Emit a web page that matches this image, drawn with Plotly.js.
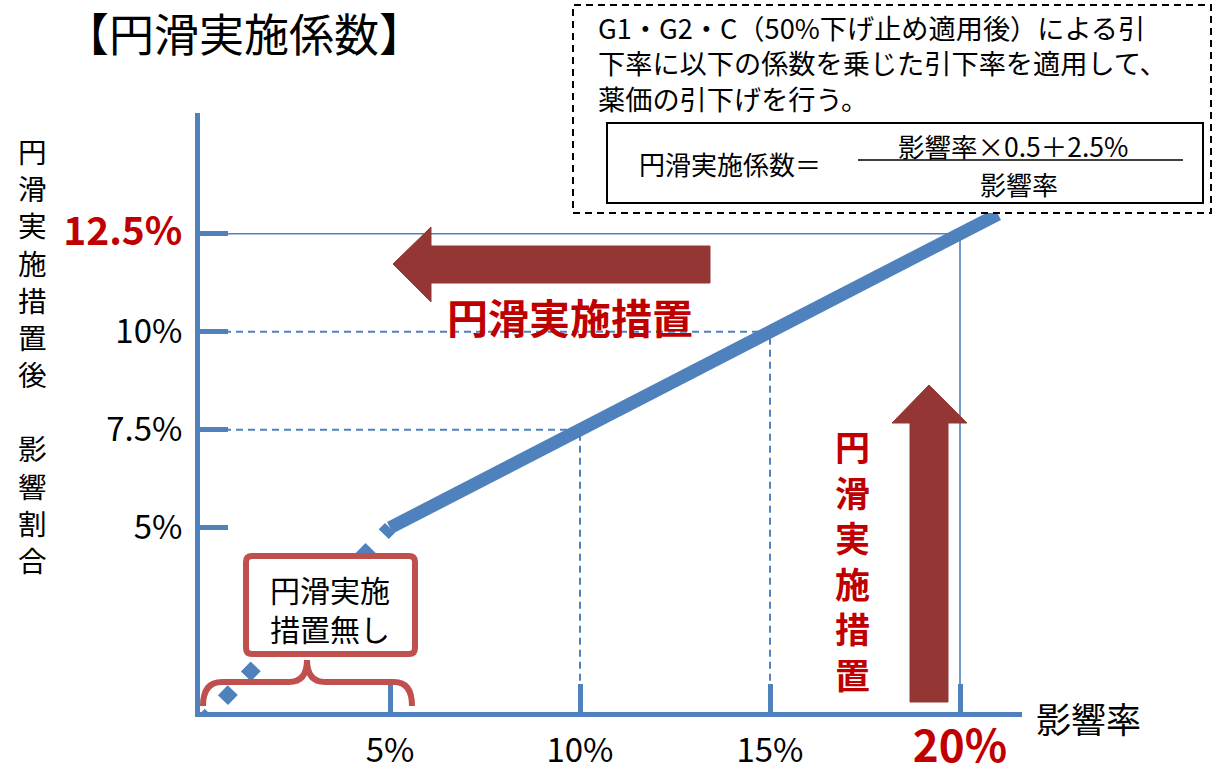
<!DOCTYPE html>
<html><head><meta charset="utf-8">
<script src="https://cdn.plot.ly/plotly-3.0.1.min.js"></script>
<style>html,body{margin:0;padding:0;background:#fff}#chart{width:1213px;height:771px}</style>
</head><body><div id="chart"></div>
<script>
// ---- data ----
const xNoMeasure = [0, 5];
const yNoMeasure = [0, 5];
const xMeasure = [5, 10, 15, 20, 21];
const yMeasure = [5, 7.5, 10, 12.5, 13];
const guideX = [10, 15, 20];
const guideY = [7.5, 10, 12.5];
const xTickVals = [5, 10, 15, 20];
const xTickText = ['5%', '10%', '15%', '20%'];
const yTickVals = [5, 7.5, 10, 12.5];
const yTickText = ['5%', '7.5%', '10%', '12.5%'];
const titleText = '【円滑実施係数】';
const yTitleChars = ['円', '滑', '実', '施', '措', '置', '後', '', '影', '響', '割', '合'];
const xTitleText = '影響率';
const measureChars = ['円', '滑', '実', '施', '措', '置'];
const noMeasureLines = ['円滑実施', '措置無し'];
const noteLines = ['G1・G2・C（50%下げ止め適用後）による引', '下率に以下の係数を乗じた引下率を適用して、', '薬価の引下げを行う。'];
const formulaLeft = '円滑実施係数＝';
const formulaNum = '影響率×0.5＋2.5%';
const formulaDen = '影響率';

// ---- layout geometry ----
const W = 1213, H = 771, ML = 200, MR = 191, MT = 113, MB = 59;
const PW = W - ML - MR, PH = H - MT - MB;
const px = v => (v - ML) / PW;
const py = v => (H - MB - v) / PH;
const P = (x, y) => px(x).toFixed(5) + ',' + py(y).toFixed(5);
const FONT = '"Noto Sans CJK JP", "Noto Sans", sans-serif';
const BLUE = '#4f81bd', DARKRED = '#943634', RED = '#c00000', BOXRED = '#c0504d';

const traces = [];
guideX.forEach((gx, i) => {
  const solid = i === guideX.length - 1;
  traces.push({
    x: [0, gx, gx], y: [guideY[i], guideY[i], 0], mode: 'lines', hoverinfo: 'skip', showlegend: false,
    line: {color: BLUE, width: solid ? 1.6 : 2, dash: solid ? 'solid' : '7px,5px'}
  });
});
traces.push({x: xNoMeasure, y: yNoMeasure, mode: 'lines', hoverinfo: 'skip', showlegend: false,
  line: {color: BLUE, width: 14, dash: '14px,19px'}});
traces.push({x: xMeasure, y: yMeasure, mode: 'lines', hoverinfo: 'skip', showlegend: false,
  line: {color: BLUE, width: 13}});

const yText = yTickText.map((t, i) => i === yTickText.length - 1
  ? '<span style="color:' + RED + ';font-size:39px"><b>' + t + '</b></span>' : t);
const xText = xTickText.map((t, i) => i === xTickText.length - 1
  ? '<span style="color:' + RED + ';font-size:44px"><b>' + t + '</b></span>' : t);

const shapes = [];
// arrows
shapes.push({type: 'path', xref: 'paper', yref: 'paper', fillcolor: DARKRED, line: {color: DARKRED, width: 1},
  path: 'M' + P(393, 264) + 'L' + P(431, 227) + 'L' + P(431, 246) + 'L' + P(710, 246) + 'L' + P(710, 283) + 'L' + P(431, 283) + 'L' + P(431, 302) + 'Z'});
shapes.push({type: 'path', xref: 'paper', yref: 'paper', fillcolor: DARKRED, line: {color: DARKRED, width: 1},
  path: 'M' + P(929, 385) + 'L' + P(967, 423) + 'L' + P(948, 423) + 'L' + P(948, 702) + 'L' + P(910, 702) + 'L' + P(910, 423) + 'L' + P(892, 423) + 'Z'});
// note box
shapes.push({type: 'rect', xref: 'paper', yref: 'paper', x0: px(573), x1: px(1211), y0: py(213), y1: py(5),
  fillcolor: '#ffffff', line: {color: '#000', width: 2, dash: '7px,5px'}});
shapes.push({type: 'rect', xref: 'paper', yref: 'paper', x0: px(607), x1: px(1203), y0: py(203), y1: py(123),
  fillcolor: 'rgba(0,0,0,0)', line: {color: '#000', width: 2}});
shapes.push({type: 'line', xref: 'paper', yref: 'paper', x0: px(858), x1: px(1183), y0: py(160), y1: py(160),
  line: {color: '#000', width: 1.5}});
// red callout
const r = 6, bx0 = 246, bx1 = 415, by0 = 556, by1 = 654;
shapes.push({type: 'path', xref: 'paper', yref: 'paper', fillcolor: '#ffffff', line: {color: BOXRED, width: 6},
  path: 'M' + P(bx0 + r, by0) + 'L' + P(bx1 - r, by0) + 'Q' + P(bx1, by0) + ' ' + P(bx1, by0 + r) +
    'L' + P(bx1, by1 - r) + 'Q' + P(bx1, by1) + ' ' + P(bx1 - r, by1) + 'L' + P(bx0 + r, by1) +
    'Q' + P(bx0, by1) + ' ' + P(bx0, by1 - r) + 'L' + P(bx0, by0 + r) + 'Q' + P(bx0, by0) + ' ' + P(bx0 + r, by0) + 'Z'});
shapes.push({type: 'path', xref: 'paper', yref: 'paper', line: {color: BOXRED, width: 6},
  path: 'M' + P(203, 706) + 'Q' + P(203, 682) + ' ' + P(222, 682) + 'L' + P(289, 682) + 'Q' + P(307, 682) + ' ' + P(307, 660) +
    'Q' + P(307, 682) + ' ' + P(325, 682) + 'L' + P(394, 682) + 'Q' + P(412, 682) + ' ' + P(412, 706)});

const ann = [];
const A = (text, x, y, size, opts) => ann.push(Object.assign({
  text: text, xref: 'paper', yref: 'paper', x: px(x), y: py(y), showarrow: false,
  xanchor: 'center', yanchor: 'middle', font: {family: FONT, size: size, color: '#000'}
}, opts || {}));
A(titleText, 244, 32, 45);
A(yTitleChars.map(c => c || ' ').join('<br>'), 32, 355, 28.6);
A(xTitleText, 1088, 717, 35);
A('<b>' + measureChars.join('') + '</b>', 570, 316, 41, {font: {family: FONT, size: 41, color: RED}});
A('<b>' + measureChars.join('<br>') + '</b>', 852, 559, 35, {font: {family: FONT, size: 35, color: RED}});
A(noMeasureLines.join('<br>'), 330, 608, 30);
A(noteLines.join('<br>'), 596, 63, 27.2, {xanchor: 'left', align: 'left'});
A(formulaLeft, 730, 163, 26);
A(formulaNum, 1013, 145, 26.5);
A(formulaDen, 1019, 183, 26);

const layout = {
  width: W, height: H, margin: {l: ML, r: MR, t: MT, b: MB},
  paper_bgcolor: '#fff', plot_bgcolor: 'rgba(0,0,0,0)', showlegend: false,
  xaxis: {range: [0, PW / 38], showgrid: false, zeroline: false, showline: true, linecolor: BLUE, linewidth: 5,
    ticks: 'inside', ticklen: 28, tickwidth: 5, tickcolor: BLUE, tickvals: xTickVals, ticktext: xText,
    tickfont: {family: FONT, size: 33, color: '#000'}, ticklabelstandoff: 5, fixedrange: true},
  yaxis: {range: [0.3, 0.3 + PH / 39.2], showgrid: false, zeroline: false, showline: true, linecolor: BLUE, linewidth: 5,
    ticks: 'inside', ticklen: 28, tickwidth: 5, tickcolor: BLUE, tickvals: yTickVals, ticktext: yText,
    tickfont: {family: FONT, size: 33, color: '#000'}, ticklabelstandoff: 6, fixedrange: true},
  shapes: shapes, annotations: ann
};
Plotly.newPlot('chart', traces, layout, {displayModeBar: false, staticPlot: true});
</script></body></html>
